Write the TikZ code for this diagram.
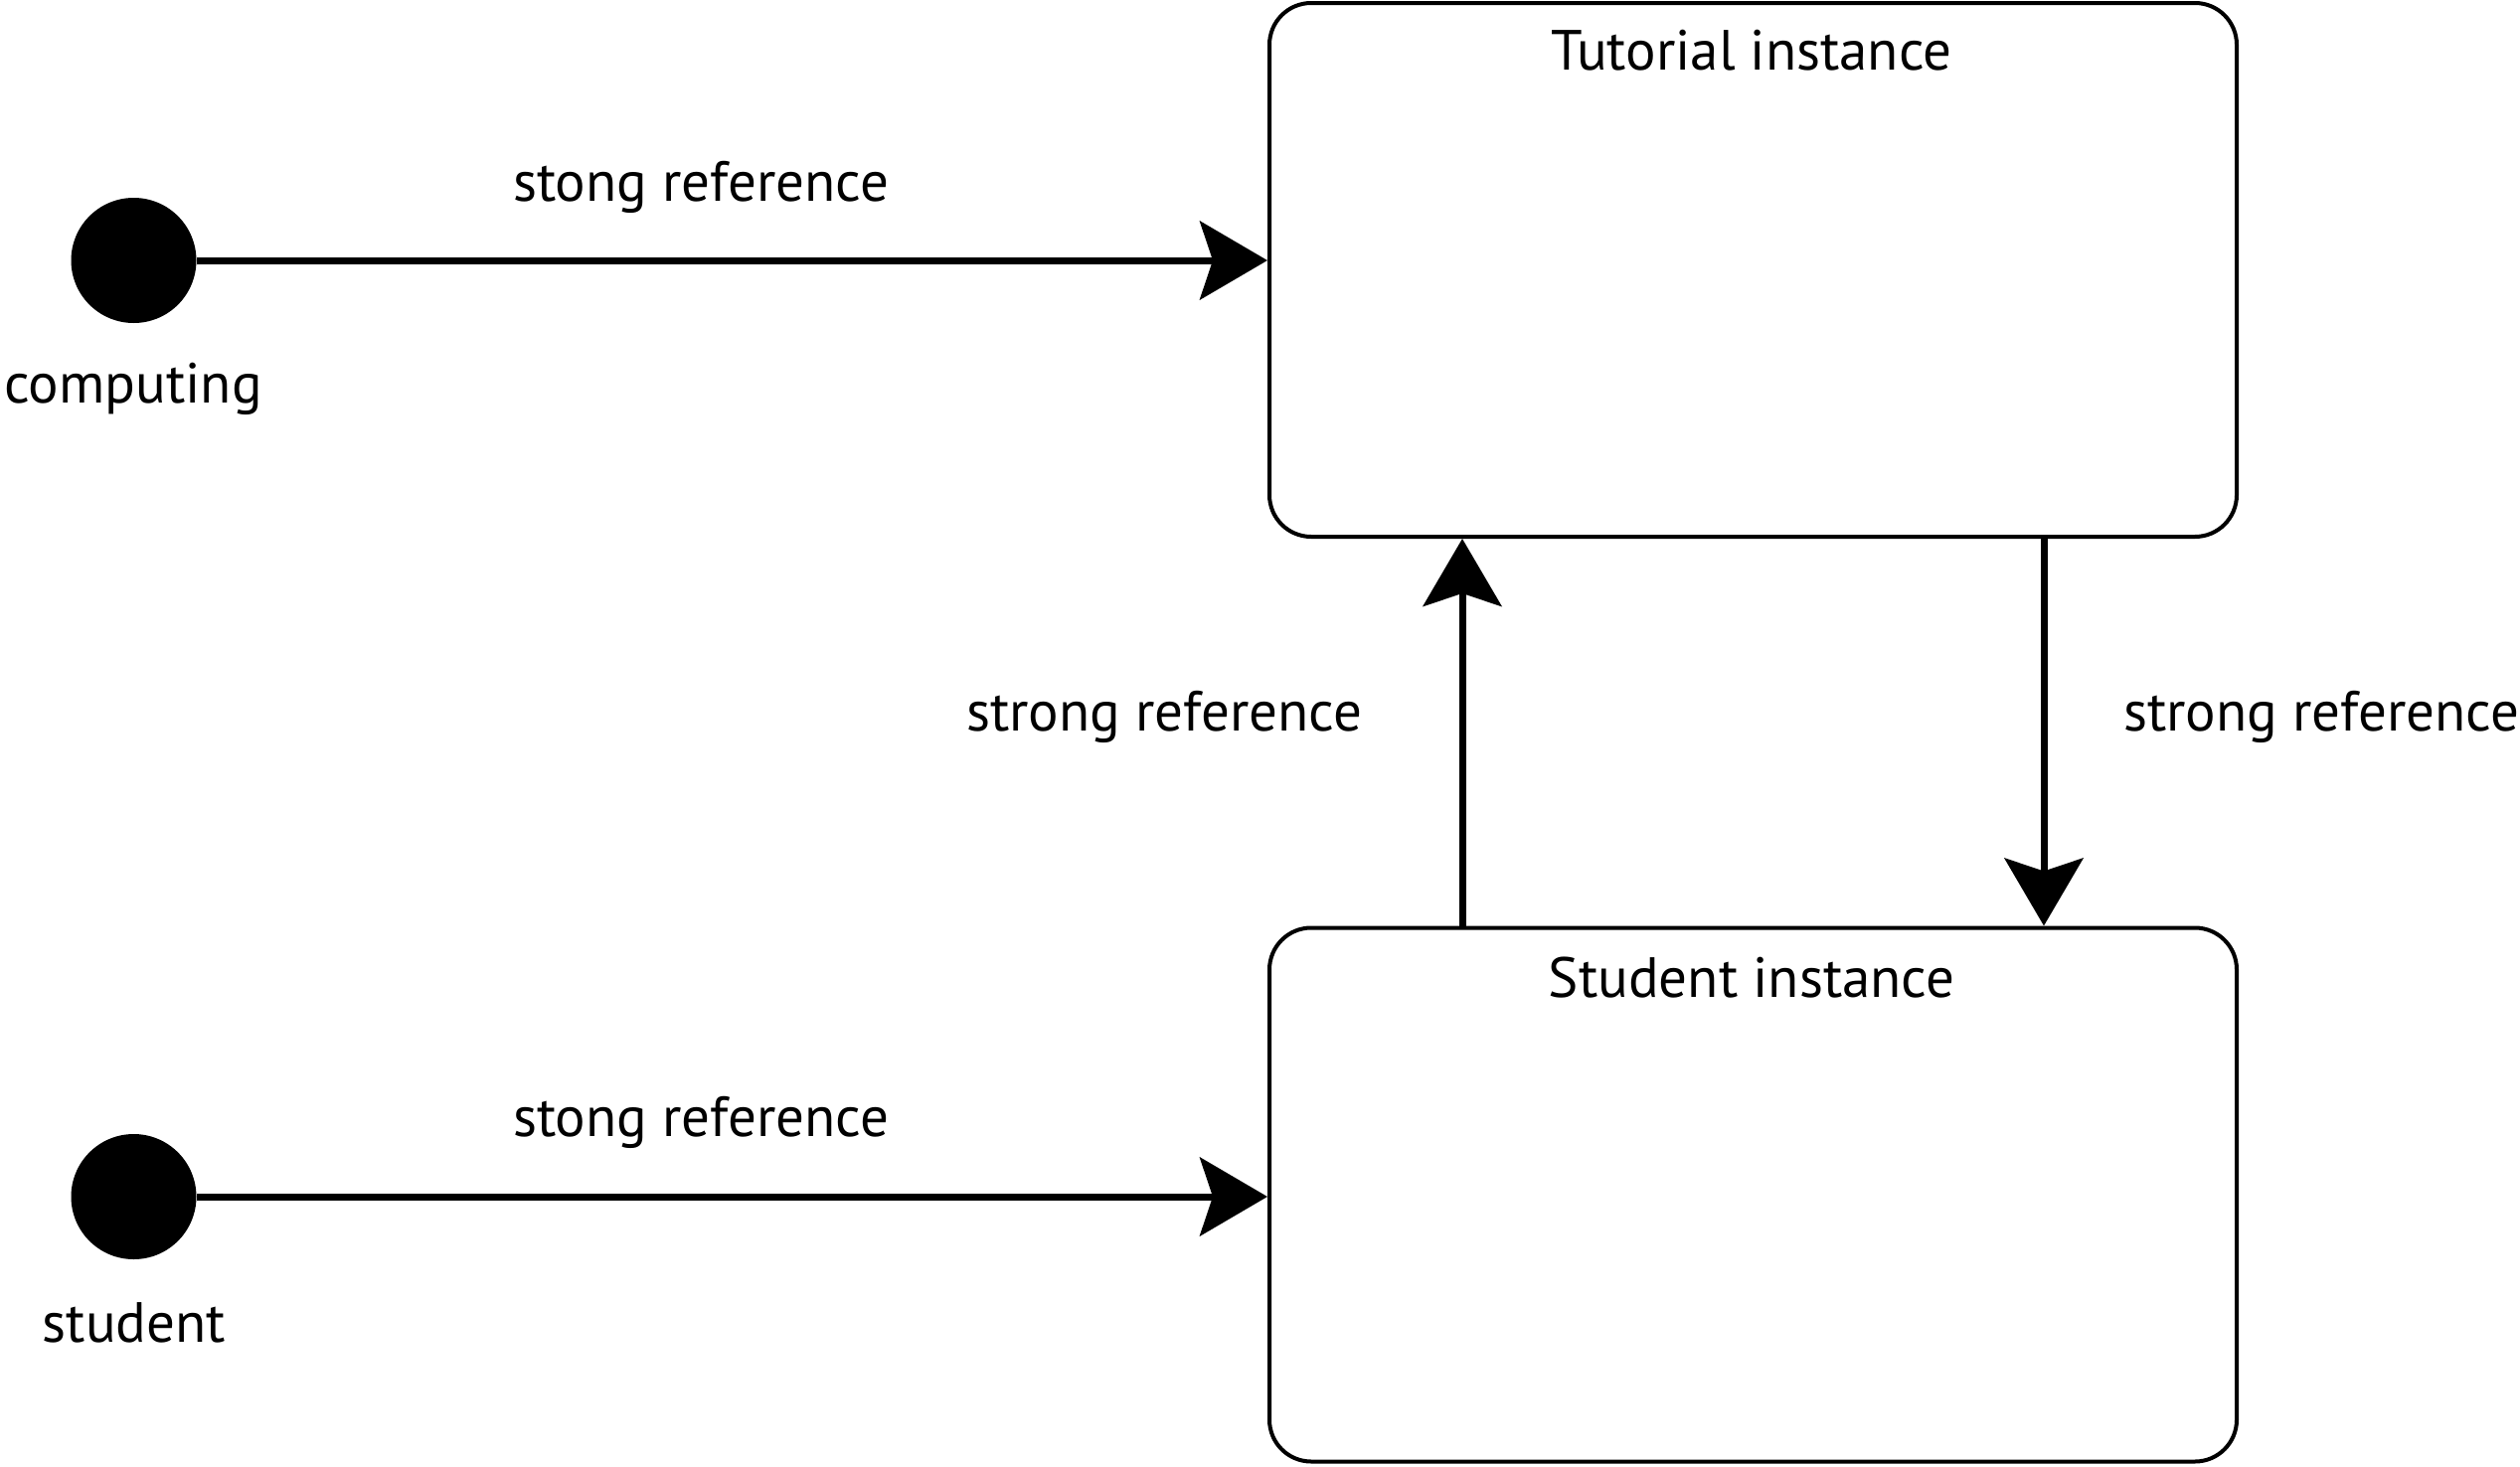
\documentclass[tikz,border=0pt]{standalone}
\usepackage{fontspec}
\setmainfont{PT Sans}
\usetikzlibrary{arrows.meta}
\usetikzlibrary{positioning}

\begin{document}
\begin{tikzpicture}[x=1pt, y=-1pt,
    font=\fontsize{57}{68}\selectfont,
    box/.style={draw, line width=4pt, rounded corners=42pt, minimum width=973pt, minimum height=537pt, inner sep=0pt},
    dot/.style={circle, fill=black, minimum size=126pt, inner sep=0pt},
    conn/.style={line width=7pt, -{Stealth[length=68pt, width=79pt, inset=13pt]}},
    lbl/.style={anchor=base, inner sep=0pt}]
    \useasboundingbox (0, 0) rectangle (2535, 1475);

    % instances
    \node[box] (tutbox) at (1763.5, 271.5) {};
    \node[box] (studbox) at (1763.5, 1202) {};
    \node[lbl] (tuttitle) at (1762, 70) {Tutorial instance};
    \node[lbl] (studtitle) at (1762, 1003) {Student instance};

    % variables
    \node[dot] (compdot) at (134.5, 262) {};
    \node[dot] (studdot) at (134.5, 1204) {};
    \node[lbl] (complab) at (134, 405) {computing};
    \node[lbl] (studlab) at (135, 1350) {student};

    % references
    \coordinate (upx) at (1471, 0);
    \coordinate (downx) at (2056, 0);
    \draw[conn] (compdot) -- (tutbox.west |- compdot);
    \draw[conn] (studdot) -- (studbox.west |- studdot);
    \draw[conn] (studbox.north -| upx) -- (tutbox.south -| upx);
    \draw[conn] (tutbox.south -| downx) -- (studbox.north -| downx);

    % reference labels
    \node[lbl] (reftop) at (705, 202) {stong reference};
    \node[lbl] (refbot) at (705, 1143) {stong reference};
    \node[lbl] (refup) at (1171, 735) {strong reference};
    \node[lbl] (refdown) at (2335, 735) {strong reference};
\end{tikzpicture}
\end{document}
